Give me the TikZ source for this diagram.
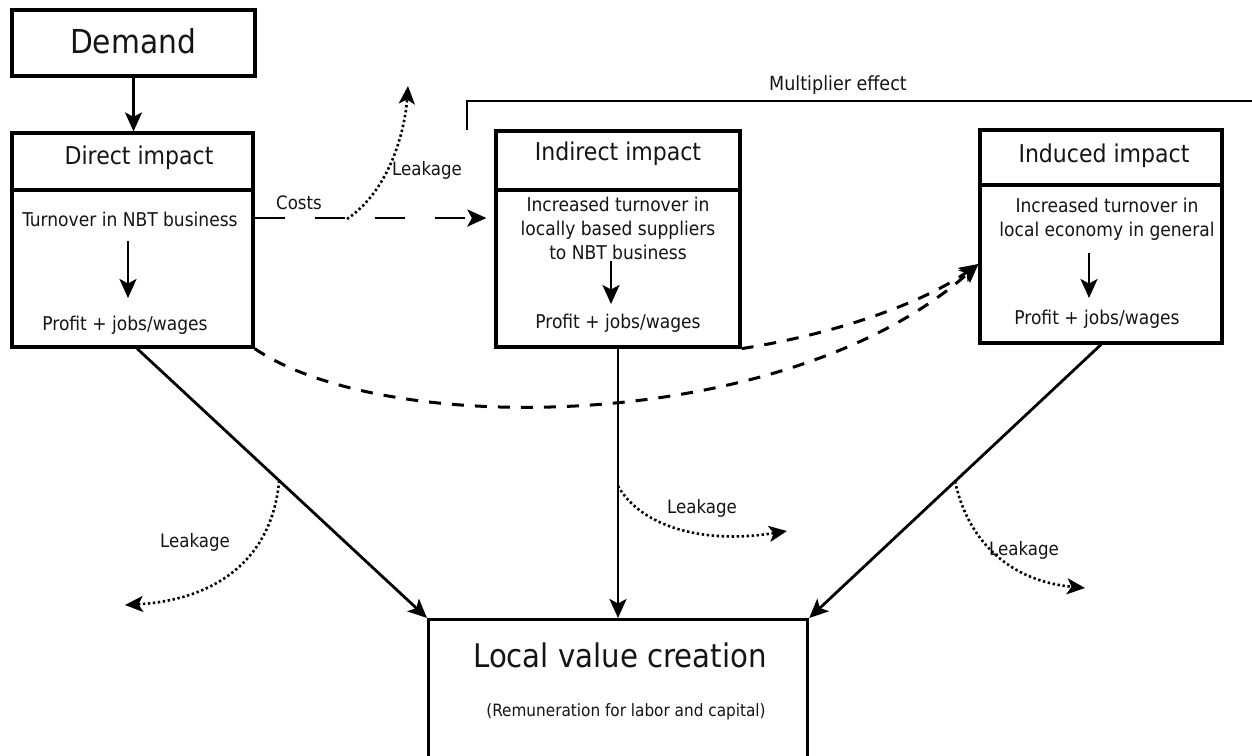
\documentclass[tikz,border=0pt]{standalone}
\usepackage{fontspec}
\setmainfont{DejaVu Sans Condensed}
\usetikzlibrary{arrows.meta,calc}
\definecolor{ink}{HTML}{151515}
\begin{document}
\begin{tikzpicture}[x=1pt,y=-1pt,
  box/.style={draw, line width=3.2pt, inner sep=0pt},
  tip/.style={-{Stealth[length=19pt,width=17pt,inset=4.5pt]}},
  arr/.style={line width=2.8pt, tip},
  leak/.style={line width=2.6pt, dash pattern=on 2.4pt off 2.6pt, -{Stealth[length=18pt,width=16pt,inset=4.5pt]}},
  costline/.style={line width=2.8pt, dash pattern=on 30pt off 30pt, tip},
  multline/.style={line width=3pt, dash pattern=on 12pt off 11pt, tip},
  lbl/.style={inner sep=0pt, text=ink, font=\fontsize{18.5}{22}\selectfont},
  bodytxt/.style={inner sep=0pt, text=ink, align=center, font=\fontsize{19}{24}\selectfont},
  titletxt/.style={inner sep=0pt, text=ink, font=\fontsize{24.5}{29}\selectfont}]
\clip (0,0) rectangle (1252,755);
\fill[white] (0,0) rectangle (1252,755);

% boxes
\node[box, minimum width=243pt, minimum height=66pt] (dem) at (133.5,43) {};
\node[box, minimum width=241pt, minimum height=57pt] (dirt) at (132.5,161.5) {};
\node[box, minimum width=241pt, minimum height=157pt] (dirb) at (132.5,268.5) {};
\node[box, minimum width=244pt, minimum height=59pt] (indt) at (618,160.5) {};
\node[box, minimum width=244pt, minimum height=157pt] (indb) at (618,268.5) {};
\node[box, minimum width=242pt, minimum height=55pt] (inut) at (1101,157.5) {};
\node[box, minimum width=242pt, minimum height=158pt] (inub) at (1101,264) {};
\node[box, minimum width=379pt, minimum height=170pt, anchor=north west] (lvc) at (427,618) {};

% texts
\node[inner sep=0pt, text=ink, font=\fontsize{33}{38}\selectfont] (demt) at (133,41) {Demand};
\node[titletxt] (dirtt) at (139,158) {Direct impact};
\node[bodytxt] (dir1) at (130,219) {Turnover in NBT business};
\node[bodytxt] (dir2) at (125,325) {Profit + jobs/wages};
\node[titletxt] (indtt) at (618,154) {Indirect impact};
\node[bodytxt] (ind1) at (618,228) {Increased turnover in\\locally based suppliers\\to NBT business};
\node[bodytxt] (ind2) at (618,323) {Profit + jobs/wages};
\node[titletxt] (inutt) at (1104,156) {Induced impact};
\node[bodytxt] (inu1) at (1107,219) {Increased turnover in\\local economy in general};
\node[bodytxt] (inu2) at (1097,319) {Profit + jobs/wages};
\node[inner sep=0pt, text=ink, font=\fontsize{32.5}{38}\selectfont] (lvct) at (620,655) {Local value creation};
\node[inner sep=0pt, text=ink, font=\fontsize{17}{20}\selectfont] (lvcs) at (626,712) {(Remuneration for labor and capital)};

\node[lbl] (costs) at (299,203) {Costs};
\node[lbl] (lk1t) at (427,170) {Leakage};
\node[lbl] (lk2t) at (195,542) {Leakage};
\node[lbl] (lk3t) at (702,508) {Leakage};
\node[lbl] (lk4t) at (1024,550) {Leakage};
\node[lbl, font=\fontsize{19.5}{23}\selectfont] (mult) at (838,85) {Multiplier effect};

% key coordinates
\coordinate (dS) at ($(dirb.south west)!0.519!(dirb.south east)$);
\coordinate (iS) at (indb.south);
\coordinate (uS) at ($(inub.south west)!0.5!(inub.south east)$);
\coordinate (cA) at ($(dirb.north east)!0.185!(dirb.south east)$);
\coordinate (cB) at ($(indb.north west)!0.185!(indb.south west)$);
\coordinate (lk1s) at (347,219);
\coordinate (lk1e) at (408,86);
\coordinate (lk2s) at ($(dS)!0.49!(lvc.north west)$);
\coordinate (lk2e) at (125,605);
\coordinate (lk3s) at ($(iS)!0.51!(iS |- lvc.north)$);
\coordinate (lk3e) at (787,531);
\coordinate (lk4s) at ($(uS)!0.5!(lvc.north east)$);
\coordinate (lk4e) at (1085,588);
\coordinate (mA) at (467,130);
\coordinate (mB) at (1262,101);

% inner arrows
\draw[arr] (dem.south) -- (dem.south |- dirt.north);
\draw[arr] (128,241) coordinate (da1) -- (128,298) coordinate (da2);
\draw[arr] (611,261) coordinate (ia1) -- (611,304) coordinate (ia2);
\draw[arr] (1089,253) coordinate (ua1) -- (1089,298) coordinate (ua2);

% costs
\draw[costline, shorten >=8pt] (cA) -- (cB);
% multiplier bracket
\draw[line width=2.8pt] (mA) |- (mB);

% to local value creation
\draw[arr] (dS) -- (lvc.north west);
\draw[arr] (iS) -- (iS |- lvc.north);
\draw[arr] (uS) -- (lvc.north east);

% multiplier dashed curves
\draw[multline] (dirb.south east) .. controls (390,440) and (790,432) .. (inub.west);
\draw[multline] (indb.south east) .. controls (830,335) and (920,305) .. (inub.west);

% leakages
\draw[leak] (lk1s) .. controls (390,190) and (405,130) .. (lk1e);
\draw[leak] (lk2s) .. controls (272,560) and (215,600) .. (lk2e);
\draw[leak] (lk3s) .. controls (640,525) and (700,545) .. (lk3e);
\draw[leak] (lk4s) .. controls (965,530) and (1000,580) .. (lk4e);
\end{tikzpicture}
\end{document}
